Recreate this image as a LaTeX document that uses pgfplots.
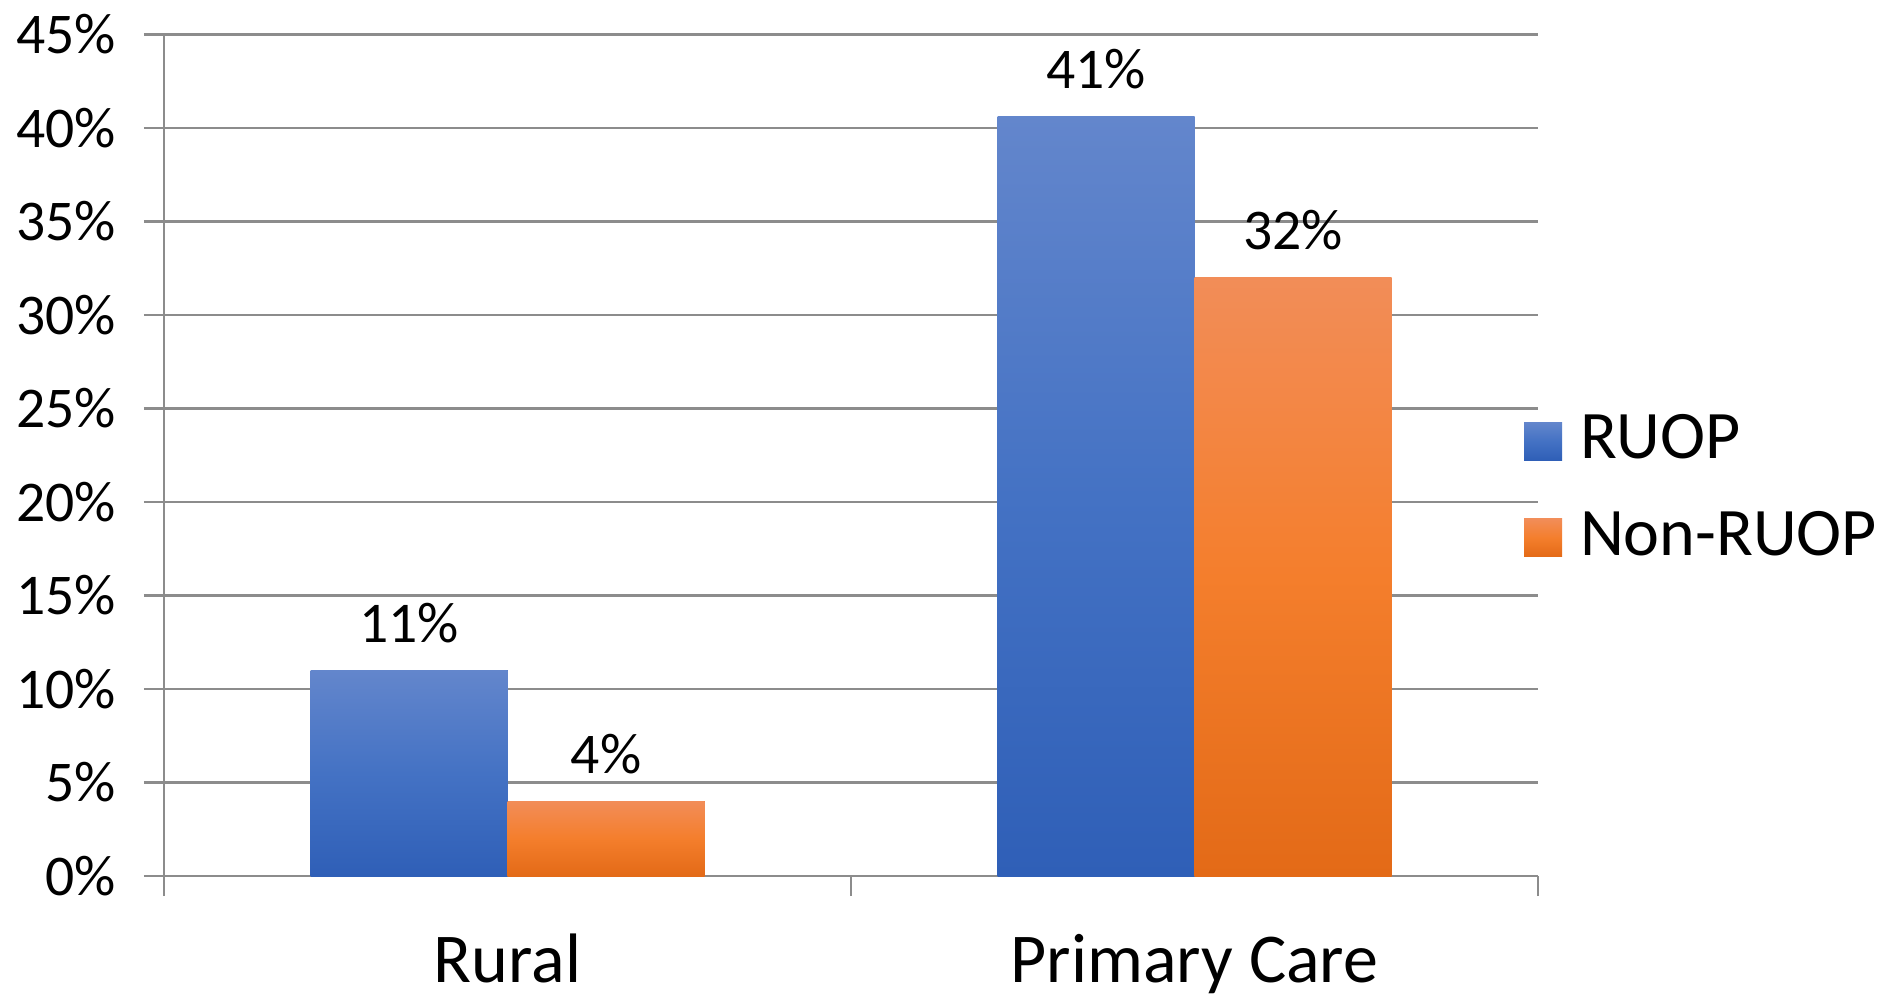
\documentclass[border=0pt]{standalone}
\usepackage{fontspec}
\setmainfont{Carlito}
\usepackage{pgfplots}
\pgfplotsset{compat=1.18}

\definecolor{gridgray}{HTML}{8C8C8C}
\definecolor{blueTop}{HTML}{6386CC}
\definecolor{blueMid}{HTML}{4472C4}
\definecolor{blueBot}{HTML}{2F5FB7}
\definecolor{orTop}{HTML}{F28D58}
\definecolor{orMid}{HTML}{F47E2C}
\definecolor{orBot}{HTML}{E36A17}

\pgfplotsset{
  rb/.style={draw=none, fill=blueMid, top color=blueTop, bottom color=blueBot, middle color=blueMid},
  ob/.style={draw=none, fill=orMid, top color=orTop, bottom color=orBot, middle color=orMid},
}

\begin{document}
\begin{tikzpicture}
\begin{axis}[
  at={(0,0)}, anchor=south west,
  scale only axis,
  width=343.5pt, height=210.4pt,
  xmin=0, xmax=2, ymin=0, ymax=45,
  axis x line=bottom, axis y line=left,
  axis line style={gridgray, line width=0.65pt, -},
  ybar, bar width=49.25pt,
  xtick={0,1,2}, xticklabels={Rural, Primary Care}, x tick label as interval,
  ytick={0,5,...,45},
  yticklabel={\pgfmathprintnumber[assume math mode=true]{\tick}\%},
  ymajorgrids, grid style={gridgray, line width=0.65pt},
  tick style={gridgray, line width=0.65pt},
  tick align=outside, major tick length=5pt,
  yticklabel style={font=\fontsize{14.4}{16}\selectfont, xshift=-3.5pt},
  xticklabel style={font=\fontsize{17.5}{20}\selectfont, anchor=base, inner sep=0pt, yshift=-21.5pt},
  nodes near coords={\pgfmathprintnumber[fixed,precision=0,assume math mode=true]{\pgfplotspointmeta}\%},
  every node near coord/.append style={font=\fontsize{14.4}{16}\selectfont, anchor=base, inner sep=0pt, yshift=7pt, black},
  legend style={at={(0.9898,0.464)}, anchor=west, draw=none, fill=none,
    inner sep=0pt, outer sep=0pt, font=\fontsize{17}{20}\selectfont,
    nodes={inner sep=0pt, text depth=0pt}, row sep=12.7pt, column sep=4.5pt},
  legend cell align=left,
  legend image code/.code={\path[#1] (0pt,-6pt) rectangle (9.5pt,3.5pt);},
]
\addplot[rb, bar shift=-24.625pt] coordinates {(0.5,11)};
\addplot[ob, bar shift=24.625pt] coordinates {(0.5,4)};
\addplot[rb, bar shift=-24.625pt, forget plot] coordinates {(1.5,40.6)};
\addplot[ob, bar shift=24.625pt, forget plot] coordinates {(1.5,32)};
\legend{RUOP, Non-RUOP}
\end{axis}
\pgfresetboundingbox
\path[use as bounding box] (-41pt,-29.5pt) rectangle (434.5pt,219pt);
\end{tikzpicture}
\end{document}
